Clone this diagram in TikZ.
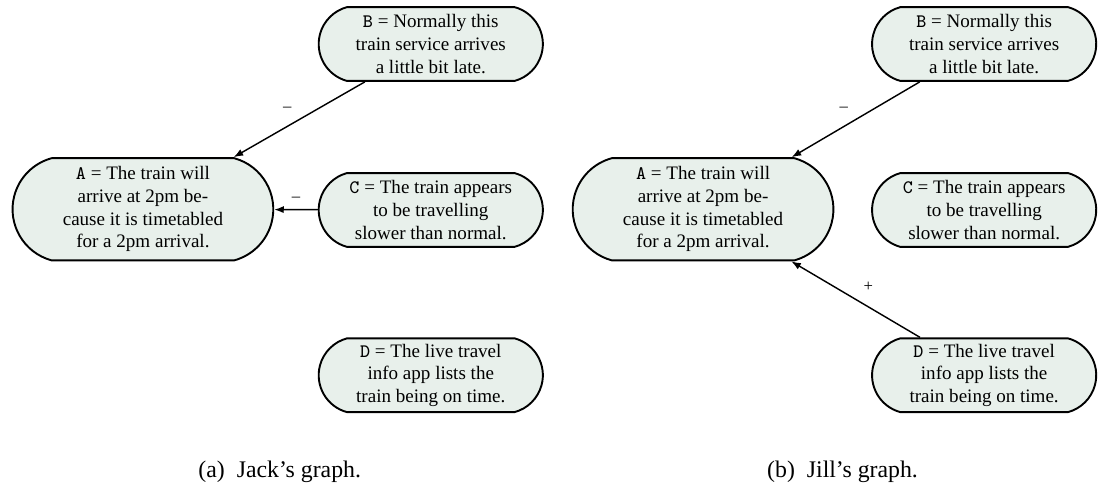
\documentclass[tikz,border=0pt]{standalone}
\usepackage{fontspec}
\setmainfont{Liberation Serif}
\usepackage{xcolor}
\usepackage{tikz}
\usetikzlibrary{shapes, shapes.misc, arrows.meta, positioning}
\definecolor{claimfill}{RGB}{232,240,235}
\newcommand{\stmA}{\texttt{A} = The train will\\arrive at 2pm be-\\cause it is timetabled\\for a 2pm arrival.}
\newcommand{\stmB}{\texttt{B} = Normally this\\train service arrives\\a little bit late.}
\newcommand{\stmC}{\texttt{C} = The train appears\\to be travelling\\slower than normal.}
\newcommand{\stmD}{\texttt{D} = The live travel\\info app lists the\\train being on time.}
\begin{document}
\begin{tikzpicture}
  [
    Claim/.style={rounded rectangle, rounded rectangle arc length=150, draw=black, fill=claimfill, thick, align=center, font=\footnotesize, inner sep=2pt},
    Big/.style={Claim, minimum width=3.99cm, minimum height=1.51cm},
    Small/.style={Claim, minimum width=3.45cm, minimum height=1.09cm},
    Sign/.style={font=\scriptsize, auto, swap, inner sep=3pt},
    Caption/.style={font=\normalsize}
  ]
  \useasboundingbox (0,0) rectangle (16.27,-7.16);
  % Nodes
  \node[Big] (a1) at(2.11, -3.09) {\stmA};
  \node[Small] (b1) at(6.36, -0.65) {\stmB};
  \node[Small] (c1) at(6.36, -3.10) {\stmC};
  \node[Small] (d1) at(6.36, -5.54) {\stmD};
  \node[Big] (a2) at(10.38, -3.09) {\stmA};
  \node[Small] (b2) at(14.53, -0.65) {\stmB};
  \node[Small] (c2) at(14.53, -3.10) {\stmC};
  \node[Small] (d2) at(14.53, -5.54) {\stmD};
  \node[Caption] (cap1) at(4.13, -6.97) {(a)\hspace{5pt}Jack's graph.};
  \node[Caption] (cap2) at(12.44, -6.97) {(b)\hspace{5pt}Jill's graph.};
  % Lines
  \path [-{Latex[length=4pt, width=3pt]}, draw, semithick] (b1) -- node[Sign] {\textendash} (a1);
  \path [-{Latex[length=4pt, width=3pt]}, draw, semithick] (c1) -- node[Sign] {\textendash} (a1);
  \path [-{Latex[length=4pt, width=3pt]}, draw, semithick] (b2) -- node[Sign] {\textendash} (a2);
  \path [-{Latex[length=4pt, width=3pt]}, draw, semithick] (d2) -- node[Sign] {+} (a2);
\end{tikzpicture}
\end{document}
